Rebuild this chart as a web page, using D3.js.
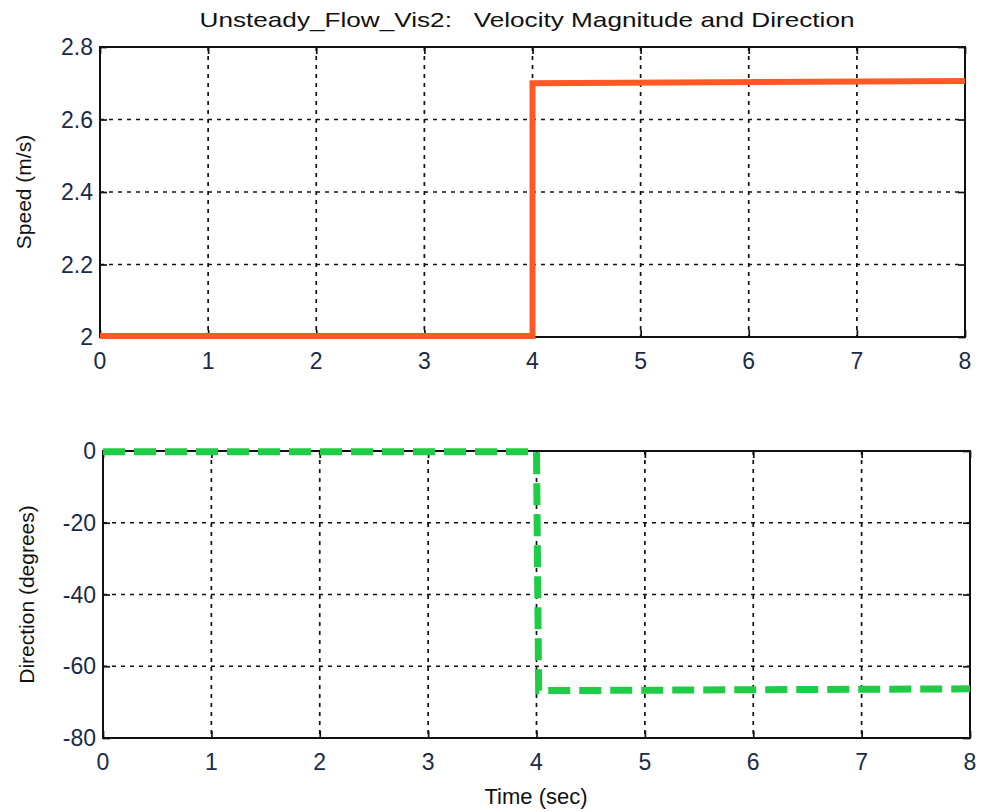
<!DOCTYPE html>
<html>
<head>
<meta charset="utf-8">
<script src="https://cdn.jsdelivr.net/npm/d3@7"></script>
<style>
  body { margin: 0; background: #fff; }
  text { font-family: "Liberation Sans", Arial, sans-serif; white-space: pre; }
</style>
</head>
<body>
<svg id="chart" width="981" height="812"></svg>
<script>
// DATA
var speedTime = [0, 4, 4, 8];
var speedValues = [2.003, 2.003, 2.7, 2.706];
var dirTime = [0, 4, 4.02, 8];
var dirValues = [-0.2, -0.2, -66.8, -66.3];
var xTicks = [0, 1, 2, 3, 4, 5, 6, 7, 8];
var speedTicks = [2, 2.2, 2.4, 2.6, 2.8];
var dirTicks = [-80, -60, -40, -20, 0];

var svg = d3.select("#chart");
var labelColor = "#1a2a48";

// title
svg.append("text")
    .attr("x", 527).attr("y", 27)
    .attr("text-anchor", "middle")
    .attr("font-size", 21)
    .attr("fill", "#111")
    .attr("textLength", 655)
    .attr("lengthAdjust", "spacingAndGlyphs")
    .text("Unsteady_Flow_Vis2:   Velocity Magnitude and Direction");

function draw_panel(box, yDomain, yTicks, xs, ys, color, dash, ylabel, ylabelX) {

    var x = d3.scaleLinear().domain([0, 8]).range([box.left, box.right]);
    var y = d3.scaleLinear().domain(yDomain).range([box.bottom, box.top]);
    var g = svg.append("g");

    // GRID
    g.selectAll(".vgrid").data(xTicks.slice(1, -1)).enter().append("line")
        .attr("x1", d => x(d)).attr("x2", d => x(d))
        .attr("y1", box.top).attr("y2", box.bottom)
        .attr("stroke", "#111").attr("stroke-width", 1.7)
        .attr("stroke-dasharray", "4,5");
    g.selectAll(".hgrid").data(yTicks.slice(1, -1)).enter().append("line")
        .attr("x1", box.left).attr("x2", box.right)
        .attr("y1", d => y(d)).attr("y2", d => y(d))
        .attr("stroke", "#111").attr("stroke-width", 1.7)
        .attr("stroke-dasharray", "4,5");

    // AXES (ticks inside, MATLAB style)
    var tk = 7;
    g.append("g").attr("transform", "translate(0," + box.bottom + ")")
        .call(d3.axisTop(x).tickValues(xTicks).tickSize(tk).tickFormat(""))
        .call(a => a.select(".domain").remove());
    g.append("g").attr("transform", "translate(0," + box.top + ")")
        .call(d3.axisBottom(x).tickValues(xTicks).tickSize(tk).tickFormat(""))
        .call(a => a.select(".domain").remove());
    g.append("g").attr("transform", "translate(" + box.left + ",0)")
        .call(d3.axisRight(y).tickValues(yTicks).tickSize(tk).tickFormat(""))
        .call(a => a.select(".domain").remove());
    g.append("g").attr("transform", "translate(" + box.right + ",0)")
        .call(d3.axisLeft(y).tickValues(yTicks).tickSize(tk).tickFormat(""))
        .call(a => a.select(".domain").remove());
    g.selectAll(".tick line").attr("stroke", "#111").attr("stroke-width", 1.7);

    // TICK LABELS
    g.selectAll(".xl").data(xTicks).enter().append("text")
        .attr("x", d => x(d)).attr("y", box.bottom + 32)
        .attr("text-anchor", "middle").attr("font-size", 23)
        .attr("fill", labelColor).text(d => d);
    g.selectAll(".yl").data(yTicks).enter().append("text")
        .attr("x", box.left - 7).attr("y", d => y(d) + 8)
        .attr("text-anchor", "end").attr("font-size", 23)
        .attr("fill", labelColor).text(d => d);

    // FRAME
    g.append("rect")
        .attr("x", box.left).attr("y", box.top)
        .attr("width", box.right - box.left).attr("height", box.bottom - box.top)
        .attr("fill", "none").attr("stroke", "#111").attr("stroke-width", 2);

    // DATA LINE
    var line = d3.line().x(d => x(d[0])).y(d => y(d[1]));
    g.append("path")
        .datum(xs.map((t, i) => [t, ys[i]]))
        .attr("d", line)
        .attr("fill", "none")
        .attr("stroke", color)
        .attr("stroke-width", dash ? 7 : 6)
        .attr("stroke-dasharray", dash);

    // Y LABEL
    var cy = (box.top + box.bottom) / 2;
    svg.append("text")
        .attr("transform", "translate(" + ylabelX + "," + cy + ") rotate(-90)")
        .attr("text-anchor", "middle").attr("font-size", 21)
        .attr("fill", "#111").text(ylabel);
}

draw_panel({left: 100, right: 965, top: 47, bottom: 337}, [2, 2.8], speedTicks,
    speedTime, speedValues, "#ff5a26", null, "Speed (m/s)", 31);

draw_panel({left: 103, right: 970, top: 451, bottom: 738}, [-80, 0], dirTicks,
    dirTime, dirValues, "#1fcc45", "22,9", "Direction (degrees)", 34);

// X LABEL
svg.append("text")
    .attr("x", 536).attr("y", 804)
    .attr("text-anchor", "middle").attr("font-size", 22)
    .attr("fill", "#111").text("Time (sec)");
</script>
</body>
</html>
